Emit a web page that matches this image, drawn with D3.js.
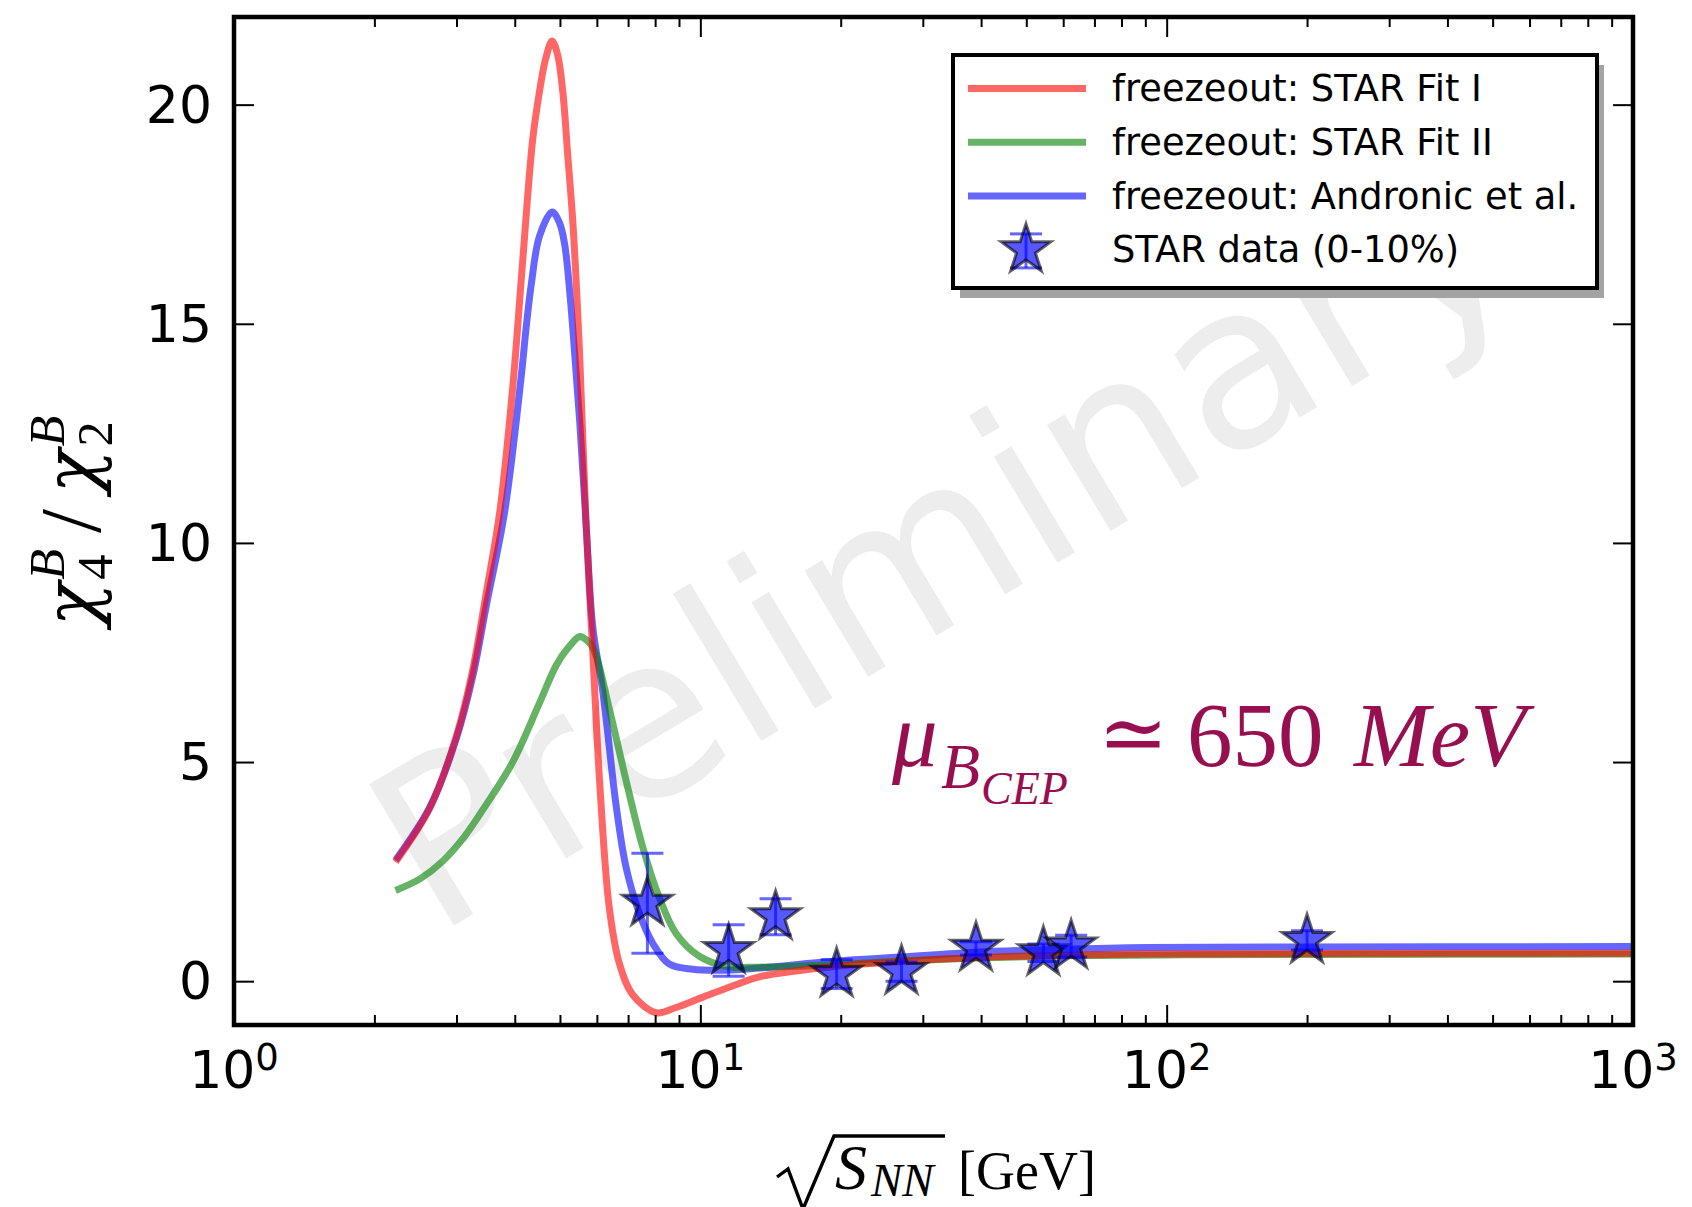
<!DOCTYPE html>
<html>
<head>
<meta charset="utf-8">
<script src="https://cdn.jsdelivr.net/npm/d3@7"></script>
<style>
body { margin:0; background:#fff; }
svg { display:block; }
.ticks .tick line { stroke:#000; stroke-width:2; }
.ticks .domain { display:none; }
</style>
</head>
<body>
<svg id="chart" width="1692" height="1207"></svg>
<script>
// freezeout curves: sqrt(s_NN) [GeV] and chi4/chi2
var fitI_s = [2.22, 2.63, 3.00, 3.25, 3.48, 3.71, 3.96, 4.16, 4.37, 4.52, 4.66, 4.81, 4.94, 5.07, 5.2, 5.33, 5.51, 5.69, 5.88, 6.08, 6.38, 6.71, 7.16, 8.04, 8.87, 10.1, 11.92, 13.37, 19.6, 27, 39, 60, 91, 200, 1000];
var fitI_v = [2.72, 3.95, 5.6, 7.1, 8.9, 10.67, 13.55, 16.44, 19.2, 20.3, 21.05, 21.45, 21.15, 20.3, 18.8, 17.3, 14.3, 10.4, 7.5, 4.58, 1.67, 0.39, -0.31, -0.72, -0.60, -0.37, -0.08, 0.10, 0.34, 0.45, 0.54, 0.59, 0.62, 0.63, 0.64];

var fitII_s = [2.22, 2.51, 2.79, 3.12, 3.46, 3.96, 4.52, 4.91, 5.2, 5.5, 5.6, 5.88, 6.38, 6.93, 7.52, 8.17, 8.87, 9.95, 11.35, 13.37, 19.6, 27, 39, 60, 100, 200, 1000];
var fitII_v = [2.07, 2.34, 2.72, 3.3, 4.0, 5.0, 6.35, 7.21, 7.6, 7.86, 7.84, 7.61, 6.21, 4.58, 3.07, 1.90, 1.09, 0.57, 0.34, 0.32, 0.38, 0.46, 0.53, 0.58, 0.6, 0.61, 0.62];

var andronic_s = [2.22, 2.63, 3.00, 3.25, 3.48, 3.80, 4.13, 4.23, 4.34, 4.52, 4.81, 4.99, 5.12, 5.26, 5.37, 5.51, 5.69, 5.88, 6.18, 6.60, 6.93, 7.40, 7.91, 8.58, 9.63, 11.35, 13.37, 19.6, 27, 39, 60, 91, 200, 1000];
var andronic_v = [2.76, 3.97, 5.55, 6.95, 8.6, 10.67, 13.8, 14.9, 15.9, 17.0, 17.55, 17.3, 16.8, 15.6, 14.4, 12.8, 10.41, 8.08, 6.6, 4.0, 2.6, 1.55, 0.86, 0.39, 0.27, 0.25, 0.30, 0.46, 0.55, 0.66, 0.73, 0.77, 0.78, 0.79];

// STAR data (0-10%)
var star_s = [7.7, 11.5, 14.5, 19.6, 27, 39, 54.4, 62.4, 200];
var star_v = [1.78, 0.70, 1.47, 0.16, 0.22, 0.75, 0.65, 0.80, 0.93];
var star_err = [1.14, 0.59, 0.41, 0.33, 0.22, 0.15, 0.2, 0.25, 0.22];

var xMajor = [1, 10, 100, 1000];
var xExp = ["0", "1", "2", "3"];
var xMinor = [2,3,4,5,6,7,8,9,20,30,40,50,60,70,80,90,200,300,400,500,600,700,800,900];
var yTicks = [0, 5, 10, 15, 20];

var legendLabels = ["freezeout: STAR Fit I", "freezeout: STAR Fit II", "freezeout: Andronic et al.", "STAR data (0-10%)"];

var margin = {top:17, left:234};
var width = 1399, height = 1008;
var mathFont = "Liberation Serif";

var svg = d3.select("#chart");
svg.append("rect").attr("width",1692).attr("height",1207).attr("fill","#fff");

var g = svg.append("g").attr("transform","translate(" + margin.left + "," + margin.top + ")");

var x = d3.scaleLog().domain([1,1000]).range([0,width]);
var y = d3.scaleLinear().domain([-1,22]).range([height,0]);

g.append("clipPath").attr("id","clip")
    .append("rect").attr("width",width).attr("height",height);

// watermark
g.append("text")
    .attr("transform","translate(" + (width/2 + 8) + "," + (height/2 + 20) + ") rotate(-31)")
    .attr("text-anchor","middle")
    .attr("dominant-baseline","central")
    .attr("font-family","DejaVu Sans")
    .attr("font-size",226)
    .attr("fill","#ededed")
    .text("Preliminary");

// curves (blue, green, red so red sits on top as in the figure)
var line = d3.line()
    .x(d => x(d[0]))
    .y(d => y(d[1]))
    .curve(d3.curveCatmullRom.alpha(0.5));

var curves = [
    {s:andronic_s, v:andronic_v, c:"#0000ff"},
    {s:fitII_s, v:fitII_v, c:"#008000"},
    {s:fitI_s, v:fitI_v, c:"#ff0000"}
];
var lines = g.append("g").attr("clip-path","url(#clip)");
curves.forEach(function(cv){
    lines.append("path")
        .datum(d3.zip(cv.s, cv.v))
        .attr("d", line)
        .attr("fill","none")
        .attr("stroke", cv.c)
        .attr("stroke-opacity",0.6)
        .attr("stroke-width",7)
        .attr("stroke-linejoin","round");
});

// data points with error bars
var starSym = d3.symbol().type(d3.symbolStar).size(26*26/0.8908130915292852);
var capW = 16;
var pts = g.append("g").selectAll("g.pt")
    .data(d3.zip(star_s, star_v, star_err))
    .enter().append("g")
    .attr("transform", d => "translate(" + x(d[0]) + ",0)");
pts.append("line")
    .attr("y1", d => y(d[1]-d[2])).attr("y2", d => y(d[1]+d[2]))
    .attr("stroke","#0000ff").attr("stroke-opacity",0.6).attr("stroke-width",3);
pts.append("line")
    .attr("x1",-capW).attr("x2",capW)
    .attr("y1", d => y(d[1]+d[2])).attr("y2", d => y(d[1]+d[2]))
    .attr("stroke","#0000ff").attr("stroke-opacity",0.6).attr("stroke-width",3);
pts.append("line")
    .attr("x1",-capW).attr("x2",capW)
    .attr("y1", d => y(d[1]-d[2])).attr("y2", d => y(d[1]-d[2]))
    .attr("stroke","#0000ff").attr("stroke-opacity",0.6).attr("stroke-width",3);
pts.append("path")
    .attr("transform", d => "translate(0," + y(d[1]) + ")")
    .attr("d", starSym)
    .attr("fill","#0000ff").attr("fill-opacity",0.66)
    .attr("stroke","#000").attr("stroke-opacity",0.6).attr("stroke-width",3);

// ticks on all four sides, pointing inward
var ticks = g.append("g").attr("class","ticks");
ticks.append("g").attr("transform","translate(0," + height + ")")
    .call(d3.axisBottom(x).tickValues(xMajor).tickSize(-20).tickFormat(""));
ticks.append("g").attr("transform","translate(0," + height + ")")
    .call(d3.axisBottom(x).tickValues(xMinor).tickSize(-10).tickFormat(""));
ticks.append("g")
    .call(d3.axisTop(x).tickValues(xMajor).tickSize(-20).tickFormat(""));
ticks.append("g")
    .call(d3.axisTop(x).tickValues(xMinor).tickSize(-10).tickFormat(""));
ticks.append("g")
    .call(d3.axisLeft(y).tickValues(yTicks).tickSize(-20).tickFormat(""));
ticks.append("g").attr("transform","translate(" + width + ",0)")
    .call(d3.axisRight(y).tickValues(yTicks).tickSize(-20).tickFormat(""));

// tick labels
g.selectAll("text.ylab").data(yTicks).enter().append("text")
    .attr("class","ylab")
    .attr("x",-22).attr("y", d => y(d))
    .attr("text-anchor","end").attr("dominant-baseline","central")
    .attr("font-family","DejaVu Sans").attr("font-size",52)
    .text(d => d);

var xl = g.selectAll("text.xlab").data(d3.zip(xMajor, xExp)).enter().append("text")
    .attr("class","xlab")
    .attr("x", d => x(d[0])).attr("y", height + 63)
    .attr("text-anchor","middle")
    .attr("font-family","DejaVu Sans").attr("font-size",52);
xl.append("tspan").text("10");
xl.append("tspan").attr("dy",-18).attr("font-size",37).text(d => d[1]);

// frame
g.append("rect").attr("width",width).attr("height",height)
    .attr("fill","none").attr("stroke","#000").attr("stroke-width",4.5);

// legend
var lg = svg.append("g").attr("transform","translate(953,55)");
lg.append("rect").attr("x",7).attr("y",10).attr("width",644).attr("height",233).attr("fill","#a3a3a3");
lg.append("rect").attr("width",644).attr("height",233)
    .attr("fill","#fff").attr("stroke","#000").attr("stroke-width",4);
var legColors = ["#ff0000","#008000","#0000ff"];
legendLabels.forEach(function(lab,i){
    var cy = 33.5 + i*53.8;
    if (i < 3) {
        lg.append("line").attr("x1",15).attr("x2",133).attr("y1",cy).attr("y2",cy)
            .attr("stroke",legColors[i]).attr("stroke-opacity",0.6).attr("stroke-width",7);
    } else {
        var cx = 73;
        lg.append("line").attr("x1",cx).attr("x2",cx).attr("y1",cy-16).attr("y2",cy+18)
            .attr("stroke","#0000ff").attr("stroke-opacity",0.6).attr("stroke-width",3);
        [cy-16, cy+18].forEach(function(yy){
            lg.append("line").attr("x1",cx-capW).attr("x2",cx+capW).attr("y1",yy).attr("y2",yy)
                .attr("stroke","#0000ff").attr("stroke-opacity",0.6).attr("stroke-width",3);
        });
        lg.append("path").attr("transform","translate(" + cx + "," + cy + ")")
            .attr("d", starSym)
            .attr("fill","#0000ff").attr("fill-opacity",0.66)
            .attr("stroke","#000").attr("stroke-opacity",0.6).attr("stroke-width",3);
    }
    lg.append("text").attr("x",159).attr("y",cy)
        .attr("dominant-baseline","central")
        .attr("font-family","DejaVu Sans").attr("font-size",36.8)
        .text(lab);
});

// lays out pieces of a math label one after another
function mathRow(parent, pieces, fill) {
    var xpos = 0, lastStart = 0;
    pieces.forEach(function(p){
        var sx = p.stack ? lastStart : (p.at !== undefined ? p.at : xpos + (p.gap || 0));
        var t = parent.append("text")
            .attr("x", sx).attr("y", p.dy || 0)
            .attr("font-family", p.family || mathFont)
            .attr("font-size", p.size)
            .attr("font-style", p.italic ? "italic" : "normal")
            .attr("fill", fill || "#000")
            .text(p.t);
        var w = t.node().getComputedTextLength();
        if (p.stack) { xpos = Math.max(xpos, sx + w); }
        else { lastStart = sx; xpos = sx + w; }
    });
    return xpos;
}

// y label
var ys = 72;
var yg = svg.append("g");
var yw = mathRow(yg, [
    {t:"\u03c7", size:ys, italic:true, family:"DejaVu Serif"},
    {t:"B", size:ys*0.7, italic:true, dy:-ys*0.45, gap:3},
    {t:"4", size:ys*0.7, dy:ys*0.22, stack:true},
    {t:"/", size:ys*1.2, gap:ys*0.22, dy:ys*0.06},
    {t:"\u03c7", size:ys, italic:true, family:"DejaVu Serif", gap:ys*0.22},
    {t:"B", size:ys*0.7, italic:true, dy:-ys*0.45, gap:3},
    {t:"2", size:ys*0.7, dy:ys*0.22, stack:true}
]);
yg.attr("transform","translate(96," + (margin.top + height/2) + ") rotate(-90) translate(" + (-yw/2) + ",0)");

// x label: sqrt(S_NN) [GeV]
var xg = svg.append("g").attr("transform","translate(777,1189)");
mathRow(xg, [
    {t:"S", size:64, italic:true, at:58},
    {t:"NN", size:47, italic:true, dy:7, at:94},
    {t:"[GeV]", size:54, at:181}
]);
xg.append("path")
    .attr("d","M0,-12 L11,-20 L26,20 L57,-53 L168,-53")
    .attr("fill","none").attr("stroke","#000").attr("stroke-width",3.4)
    .attr("stroke-linejoin","miter");

// annotation
var mu = svg.append("g").attr("transform","translate(892,766)");
mathRow(mu, [
    {t:"\u03bc", size:91, italic:true, at:0},
    {t:"B", size:64, italic:true, dy:22, at:49},
    {t:"CEP", size:46, italic:true, dy:38, at:89},
    {t:"\u2243", size:84, family:"DejaVu Serif", at:206, dy:-4},
    {t:"650", size:91, at:295},
    {t:"MeV", size:91, italic:true, at:462}
], "#980f50");
</script>
</body>
</html>
